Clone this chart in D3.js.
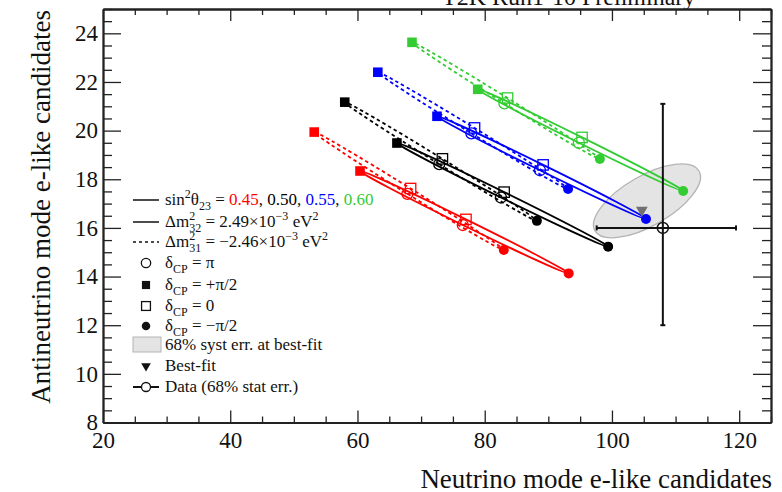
<!DOCTYPE html>
<html>
<head>
<meta charset="utf-8">
<script src="https://cdn.jsdelivr.net/npm/d3@7"></script>
<style>
  body { margin: 0; background: #fff; }
  svg { display: block; }
  svg text { font-family: "Liberation Serif", "Times New Roman", serif; fill: #111; }
</style>
</head>
<body>
<svg id="chart" width="782" height="492"></svg>
<script>
// ---- data ----------------------------------------------------------------
const sin2Theta23 = ["0.45", "0.50", "0.55", "0.60"];
const seriesColors = ["#ff0000", "#000000", "#0000ff", "#33cc33"];

// Expected [neutrino, antineutrino] e-like candidates around each closed curve,
// at δCP = +π/2, π, −π/2, 0 (in that order).
const normalOrdering = [
  [[60.4, 18.34], [76.55, 16.12], [93.2, 14.13], [77.05, 16.35]],
  [[66.2, 19.49], [82.55, 17.25], [99.4, 15.23], [83.05, 17.47]],
  [[72.5, 20.59], [88.68, 18.37], [105.35, 16.37], [89.18, 18.59]],
  [[78.9, 21.70], [94.8, 19.50], [111.2, 17.52], [95.3, 19.72]]
];
const invertedOrdering = [
  [[53.2, 19.94], [67.85, 17.40], [83.0, 15.09], [68.35, 17.62]],
  [[58.0, 21.17], [72.85, 18.62], [88.2, 16.29], [73.35, 18.84]],
  [[63.2, 22.40], [77.9, 19.89], [93.1, 17.60], [78.4, 20.11]],
  [[68.57, 23.63], [83.09, 21.12], [98.1, 18.83], [83.59, 21.34]]
];
const deltaMarkers = ["filledSquare", "openCircle", "filledCircle", "openSquare"];

// 68% systematic contour around the best fit: extreme points of the ellipse
const systContour = [[113.68, 18.34], [103.54, 18.0], [97.33, 15.88], [107.47, 16.23]];
const bestFit = [104.7, 16.73];

// Observed data with 68% statistical intervals
const dataPoint = [108, 16];
const dataXInterval = [97.6, 119.5];
const dataYInterval = [12.0, 21.1];

const xMajorTicks = [20, 40, 60, 80, 100, 120];
const yMajorTicks = [8, 10, 12, 14, 16, 18, 20, 22, 24];

// ---- layout --------------------------------------------------------------
const svg = d3.select("#chart");
const L = 103, R = 771, T = 9, B = 422.5;
const x = d3.scaleLinear().domain([20, 125]).range([L, R]);
const y = d3.scaleLinear().domain([8, 25]).range([B, T]);
const SERIF = '"Liberation Serif", "Times New Roman", serif';

// partially visible header
svg.append("text").attr("x", 442).attr("y", 5).style("font-size", "24px").text("T2K Run1-10 Preliminary");

const plot = svg.append("g");

// systematic error contour
const ellipseCurve = d3.curveCardinalClosed.tension(-0.657);
const path = d3.line().x(d => x(d[0])).y(d => y(d[1])).curve(ellipseCurve);
plot.append("path").attr("d", path(systContour))
  .attr("fill", "#e4e4e4").attr("stroke", "#b4b4b4").attr("stroke-width", 1.3);

// expected-rate curves
function drawCurves(sets, dash) {
  sets.forEach((pts, i) => {
    plot.append("path").attr("d", path(pts))
      .attr("fill", "none").attr("stroke", seriesColors[i]).attr("stroke-width", 1.8)
      .attr("stroke-dasharray", dash);
  });
}
drawCurves(invertedOrdering, "3.5,3");
drawCurves(normalOrdering, null);

function marker(g, kind, cx, cy, color, s) {
  s = s || 1;
  if (kind === "filledSquare") {
    g.append("rect").attr("x", cx - 4.8 * s).attr("y", cy - 4.8 * s).attr("width", 9.6 * s).attr("height", 9.6 * s).attr("fill", color);
  } else if (kind === "filledCircle") {
    g.append("circle").attr("cx", cx).attr("cy", cy).attr("r", 5 * s).attr("fill", color);
  } else if (kind === "openCircle") {
    g.append("circle").attr("cx", cx).attr("cy", cy).attr("r", 5.5 * s).attr("fill", "none").attr("stroke", color).attr("stroke-width", 1.3);
  } else if (kind === "openSquare") {
    g.append("rect").attr("x", cx - 5.2 * s).attr("y", cy - 5.2 * s).attr("width", 10.4 * s).attr("height", 10.4 * s).attr("fill", "none").attr("stroke", color).attr("stroke-width", 1.3);
  }
}
[invertedOrdering, normalOrdering].forEach(sets => {
  sets.forEach((pts, i) => {
    pts.forEach((p, k) => marker(plot, deltaMarkers[k], x(p[0]), y(p[1]), seriesColors[i]));
  });
});

// best fit
const tri = d3.symbol().type(d3.symbolTriangle).size(60);
plot.append("path").attr("d", tri()).attr("fill", "#707070")
  .attr("transform", `translate(${x(bestFit[0])},${y(bestFit[1])}) rotate(180)`);

// data point with error bars
const dg = plot.append("g").attr("stroke", "#111").attr("stroke-width", 2);
dg.append("line").attr("x1", x(dataXInterval[0])).attr("x2", x(dataXInterval[1])).attr("y1", y(dataPoint[1])).attr("y2", y(dataPoint[1]));
dg.append("line").attr("y1", y(dataYInterval[0])).attr("y2", y(dataYInterval[1])).attr("x1", x(dataPoint[0])).attr("x2", x(dataPoint[0]));
dataXInterval.forEach(v => dg.append("line").attr("x1", x(v)).attr("x2", x(v)).attr("y1", y(dataPoint[1]) - 2.5).attr("y2", y(dataPoint[1]) + 2.5));
dataYInterval.forEach(v => dg.append("line").attr("y1", y(v)).attr("y2", y(v)).attr("x1", x(dataPoint[0]) - 2.5).attr("x2", x(dataPoint[0]) + 2.5));
plot.append("circle").attr("cx", x(dataPoint[0])).attr("cy", y(dataPoint[1])).attr("r", 5.5)
  .attr("fill", "none").attr("stroke", "#111").attr("stroke-width", 1.5);

// ---- axes ----------------------------------------------------------------
const xMinor = d3.range(20, 126, 5).filter(v => v % 20 !== 0);
const yMinor = d3.range(8, 25.01, 0.5).filter(v => v % 2 !== 0);
function styleAxis(g) {
  g.attr("font-family", null).attr("font-size", null);
  g.selectAll("path.domain").attr("stroke", "#222").attr("stroke-width", 1.8);
  g.selectAll("line").attr("stroke", "#222").attr("stroke-width", 1.3);
  g.selectAll("text").style("font-family", SERIF).style("font-size", "23px").attr("fill", "#111");
}
svg.append("g").attr("transform", `translate(0,${B})`)
  .call(d3.axisBottom(x).tickValues(xMajorTicks).tickSize(-12).tickSizeOuter(0).tickPadding(9).tickFormat(d3.format("d"))).call(styleAxis);
svg.append("g").attr("transform", `translate(0,${B})`)
  .call(d3.axisBottom(x).tickValues(xMinor).tickSize(-6).tickSizeOuter(0).tickFormat("")).call(styleAxis);
svg.append("g").attr("transform", `translate(0,${T})`)
  .call(d3.axisTop(x).tickValues(xMajorTicks).tickSize(-12).tickSizeOuter(0).tickFormat("")).call(styleAxis);
svg.append("g").attr("transform", `translate(0,${T})`)
  .call(d3.axisTop(x).tickValues(xMinor).tickSize(-6).tickSizeOuter(0).tickFormat("")).call(styleAxis);
svg.append("g").attr("transform", `translate(${L},0)`)
  .call(d3.axisLeft(y).tickValues(yMajorTicks).tickSize(-18).tickSizeOuter(0).tickPadding(5).tickFormat(d3.format("d"))).call(styleAxis);
svg.append("g").attr("transform", `translate(${L},0)`)
  .call(d3.axisLeft(y).tickValues(yMinor).tickSize(-9).tickSizeOuter(0).tickFormat("")).call(styleAxis);
svg.append("g").attr("transform", `translate(${R},0)`)
  .call(d3.axisRight(y).tickValues(yMajorTicks).tickSize(-18).tickSizeOuter(0).tickFormat("")).call(styleAxis);
svg.append("g").attr("transform", `translate(${R},0)`)
  .call(d3.axisRight(y).tickValues(yMinor).tickSize(-9).tickSizeOuter(0).tickFormat("")).call(styleAxis);

// axis titles
svg.append("text").attr("x", 772).attr("y", 488).attr("text-anchor", "end").style("font-size", "27px")
  .text("Neutrino mode e-like candidates");
svg.append("text").attr("transform", "translate(50,10) rotate(-90)").attr("text-anchor", "end").style("font-size", "27px")
  .text("Antineutrino mode e-like candidates");

// ---- legend --------------------------------------------------------------
const lg = svg.append("g");
const lx0 = 133, lx1 = 159, mx = 146, tx = 165, fs = 17;
const rows = [200, 222, 242, 263, 285, 306, 326, 345, 366, 387];

function legendText(yy) {
  return lg.append("text").attr("x", tx).attr("y", yy + 5).style("font-size", fs + "px");
}
function sub(t, s, dy, dx) {
  const ts = t.append("tspan").style("font-size", "12px").attr("dy", dy).text(s);
  if (dx) ts.attr("dx", dx);
  return ts;
}

// row 1
lg.append("line").attr("x1", lx0).attr("x2", lx1).attr("y1", rows[0]).attr("y2", rows[0]).attr("stroke", "#111").attr("stroke-width", 1.5);
{
  const t = legendText(rows[0]);
  t.append("tspan").text("sin");
  sub(t, "2", -7);
  t.append("tspan").attr("dy", 7).text("θ");
  sub(t, "23", 5);
  t.append("tspan").attr("dy", -5).text(" = ");
  sin2Theta23.forEach((v, i) => {
    t.append("tspan").style("fill", seriesColors[i]).text(v);
    if (i < sin2Theta23.length - 1) t.append("tspan").text(", ");
  });
}
// rows 2-3
function massRow(r, dash, idx, val) {
  lg.append("line").attr("x1", lx0).attr("x2", lx1).attr("y1", rows[r]).attr("y2", rows[r])
    .attr("stroke", "#111").attr("stroke-width", 1.5).attr("stroke-dasharray", dash);
  const t = legendText(rows[r]);
  t.append("tspan").text("Δm");
  sub(t, "2", -7);
  sub(t, idx, 12, -6);
  t.append("tspan").attr("dy", -5).text(" = " + val + "×10");
  sub(t, "−3", -7);
  t.append("tspan").attr("dy", 7).text(" eV");
  sub(t, "2", -7);
}
massRow(1, null, "32", "2.49");
massRow(2, "3,3", "31", "−2.46");

// δCP rows
const deltaLabels = ["π", "+π/2", "0", "−π/2"];
const legendMarkerOrder = ["openCircle", "filledSquare", "openSquare", "filledCircle"];
legendMarkerOrder.forEach((kind, i) => {
  const r = rows[3 + i];
  marker(lg, kind, mx, r, "#111", 0.85);
  const t = legendText(r);
  t.append("tspan").text("δ");
  sub(t, "CP", 5);
  t.append("tspan").attr("dy", -5).text(" = " + deltaLabels[i]);
});

// syst box
lg.append("rect").attr("x", lx0).attr("y", rows[7] - 8).attr("width", lx1 - lx0 + 2).attr("height", 15)
  .attr("fill", "#e4e4e4").attr("stroke", "#b4b4b4").attr("stroke-width", 1);
legendText(rows[7]).text("68% syst err. at best-fit");

// best fit
lg.append("path").attr("d", d3.symbol().type(d3.symbolTriangle).size(40)()).attr("fill", "#111")
  .attr("transform", `translate(${mx},${rows[8]}) rotate(180)`);
legendText(rows[8]).text("Best-fit");

// data
lg.append("line").attr("x1", lx0).attr("x2", lx1).attr("y1", rows[9]).attr("y2", rows[9]).attr("stroke", "#111").attr("stroke-width", 2);
lg.append("circle").attr("cx", mx).attr("cy", rows[9]).attr("r", 4.5).attr("fill", "#fff").attr("stroke", "#111").attr("stroke-width", 1.3);
legendText(rows[9]).text("Data (68% stat err.)");
</script>
</body>
</html>
